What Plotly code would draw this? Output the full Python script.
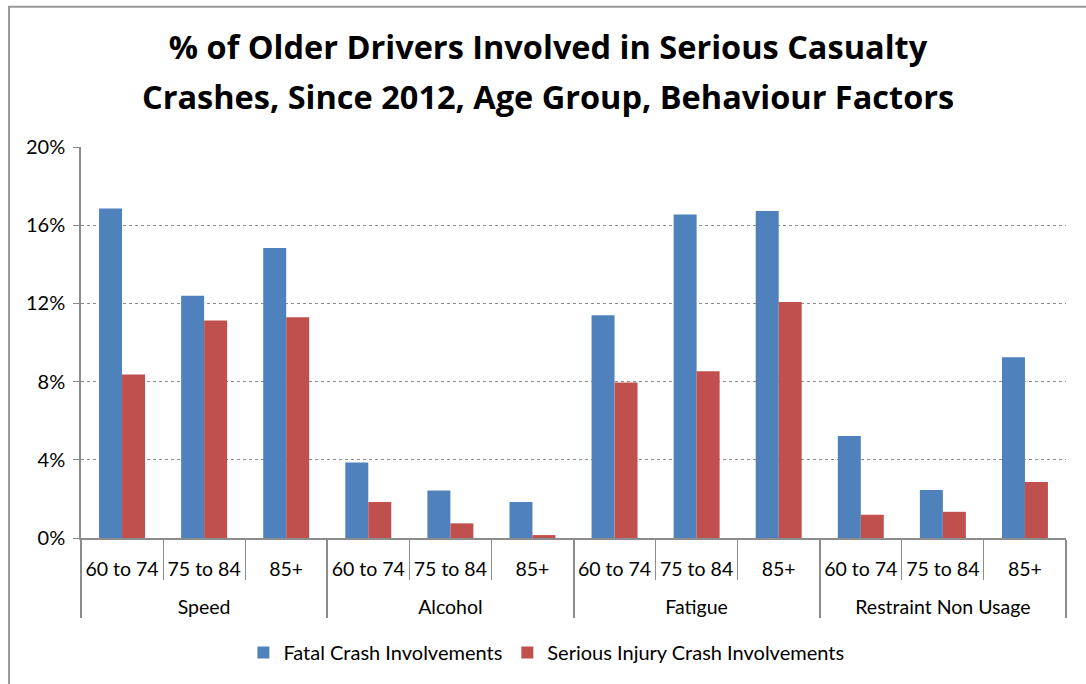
import plotly.graph_objects as go

groups = ["Speed", "Alcohol", "Fatigue", "Restraint Non Usage"]
ages = ["60 to 74", "75 to 84", "85+"]
fatal = [16.85, 12.39, 14.84, 3.86, 2.43, 1.84, 11.39, 16.55, 16.72, 5.22, 2.45, 9.25]
serious = [8.36, 11.13, 11.29, 1.84, 0.75, 0.15, 7.96, 8.53, 12.07, 1.19, 1.34, 2.86]
series_names = ["Fatal Crash Involvements", "Serious Injury Crash Involvements"]
colors = ["#4F81BD", "#C0504D"]
yticks = [0, 4, 8, 12, 16, 20]
title_lines = ["% of Older Drivers Involved in Serious Casualty",
               "Crashes, Since 2012, Age Group, Behaviour Factors"]

# outer-level labels get a leading line break so they sit one line lower (as in the reference)
outer = ["<br>" + g for g in groups for _ in ages]
inner = [a for _ in groups for a in ages]

FONT = "Lato"
TFONT = "Open Sans"

fig = go.Figure()
for name, vals, col in zip(series_names, [fatal, serious], colors):
    fig.add_trace(go.Bar(x=[outer, inner], y=vals, name=name,
                         marker=dict(color=col, line=dict(width=0))))

fig.update_layout(
    width=1086, height=684, autosize=False,
    margin=dict(l=81, r=20, t=147, b=144),
    paper_bgcolor="white", plot_bgcolor="white",
    barmode="group", bargap=0.44, bargroupgap=0,
    font=dict(family=FONT, size=19, color="black"),
    title=dict(text=title_lines[0],
               x=548 / 1086, xanchor="center", y=1 - 48 / 684, yanchor="middle",
               font=dict(family=TFONT, size=32.5, color="black", weight="bold")),
    legend=dict(orientation="h", x=0.4725, xanchor="center", y=-0.293, yanchor="middle",
                font=dict(family=FONT, size=20), bgcolor="rgba(0,0,0,0)",
                itemwidth=30),
    showlegend=True,
)
fig.add_annotation(text=title_lines[1], xref="paper", yref="paper",
                   x=(548 - 81) / 985, y=(540 - 96) / 393, xanchor="center", yanchor="middle",
                   showarrow=False,
                   font=dict(family=TFONT, size=32.5, color="black", weight="bold"))
fig.update_yaxes(range=[0, 20], tickvals=yticks, ticktext=[f"{v}%" for v in yticks],
                 showgrid=True, gridcolor="#8c8c8c", griddash="dot", gridwidth=1,
                 showline=True, linecolor="#8c8c8c", linewidth=1.5,
                 ticks="outside", ticklen=6, tickcolor="#8c8c8c", automargin=False,
                 zeroline=False, tickfont=dict(size=20), ticklabelstandoff=4)
fig.update_xaxes(showline=True, linecolor="#8c8c8c", linewidth=1.5, automargin=False,
                 ticks="outside", tickson="boundaries", ticklen=40, tickcolor="#8c8c8c",
                 showdividers=True, dividercolor="#8c8c8c", dividerwidth=1.5,
                 tickfont=dict(size=19.5), ticklabelstandoff=13, tickangle=0)

fig.add_shape(type="rect", xref="paper", yref="paper",
              x0=(9 - 81) / 985, x1=1.2,
              y0=-0.6, y1=(540 - 6) / 393,
              line=dict(color="#9a9a9a", width=2), layer="below")

fig.write_html("out.html")
